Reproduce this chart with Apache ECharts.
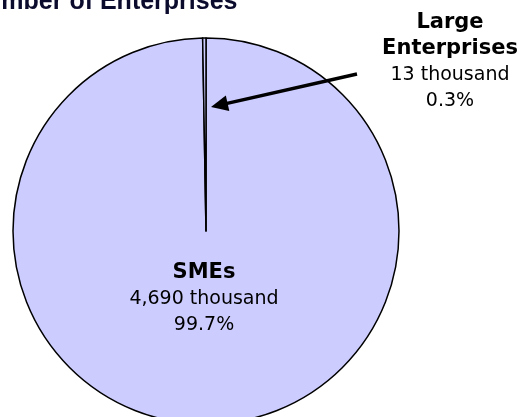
<!DOCTYPE html>
<html>
<head>
<meta charset="utf-8">
<script src="https://cdn.jsdelivr.net/npm/echarts@6/dist/echarts.min.js"></script>
<style>
html,body{margin:0;padding:0;background:#fff;}
#main{width:525px;height:417px;}
</style>
</head>
<body>
<div id="main"></div>
<script>
// data
var categories=['SMEs','Large Enterprises'];
var values=[4690,13]; // thousand enterprises
var unit=' thousand';
var chartTitle='Number of Enterprises';

var chart=echarts.init(document.getElementById('main'));

function fmtNum(v){
	return String(v).replace(/\B(?=(\d{3})+(?!\d))/g,',');
}

// label spots (SMEs inside, Large outside right)
var labelPos=[{x:204,y:299},{x:450,y:62}];

// arrow from label to the thin slice
var arrowFrom=[357,74], arrowTo=[211,107];
function arrowHead(from,to,len,half){
	var dx=to[0]-from[0], dy=to[1]-from[1];
	var l=Math.sqrt(dx*dx+dy*dy), ux=dx/l, uy=dy/l;
	var bx=to[0]-ux*len, by=to[1]-uy*len;
	return [[to[0],to[1]],[bx-uy*half,by+ux*half],[bx+uy*half,by-ux*half]];
}

var option={
	animation:false,
	title:{
		text:chartTitle,
		left:-37,
		top:-15,
		textStyle:{
			color:'#0b0b2e',
			fontFamily:'Liberation Sans',
			fontSize:25,
			fontWeight:'bold'
		}
	},
	series:[{
		type:'pie',
		center:[206,231],
		radius:193,
		startAngle:90,
		clockwise:true,
		avoidLabelOverlap:false,
		itemStyle:{color:'#ccccff',borderColor:'#000',borderWidth:1.5},
		emphasis:{disabled:true},
		labelLine:{show:false},
		label:{
			show:true,
			position:'outside',
			align:'center',
			formatter:function(p){
				var name=p.name.split(' ').map(function(w){return '{b|'+w+'}';}).join('\n');
				return name+'\n{v|'+fmtNum(p.value)+unit+'}\n{v|'+p.percent.toFixed(1)+'%}';
			},
			rich:{
				b:{fontFamily:'DejaVu Sans',fontSize:21,fontWeight:'bold',color:'#000',lineHeight:26,align:'center'},
				v:{fontFamily:'DejaVu Sans',fontSize:19,color:'#000',lineHeight:26,align:'center'}
			}
		},
		labelLayout:function(p){
			var pos=labelPos[p.dataIndex];
			return {x:pos.x,y:pos.y,align:'center',verticalAlign:'middle'};
		},
		data:categories.map(function(c,i){return {name:c,value:values[i]};})
	}],
	graphic:[
		{type:'polyline',z:100,shape:{points:[arrowFrom,arrowHead(arrowFrom,arrowTo,12,0)[1]]},style:{stroke:'#000',lineWidth:3.5}},
		{type:'polygon',z:100,shape:{points:arrowHead(arrowFrom,arrowTo,17,8)},style:{fill:'#000'}}
	]
};
chart.setOption(option);
</script>
</body>
</html>
